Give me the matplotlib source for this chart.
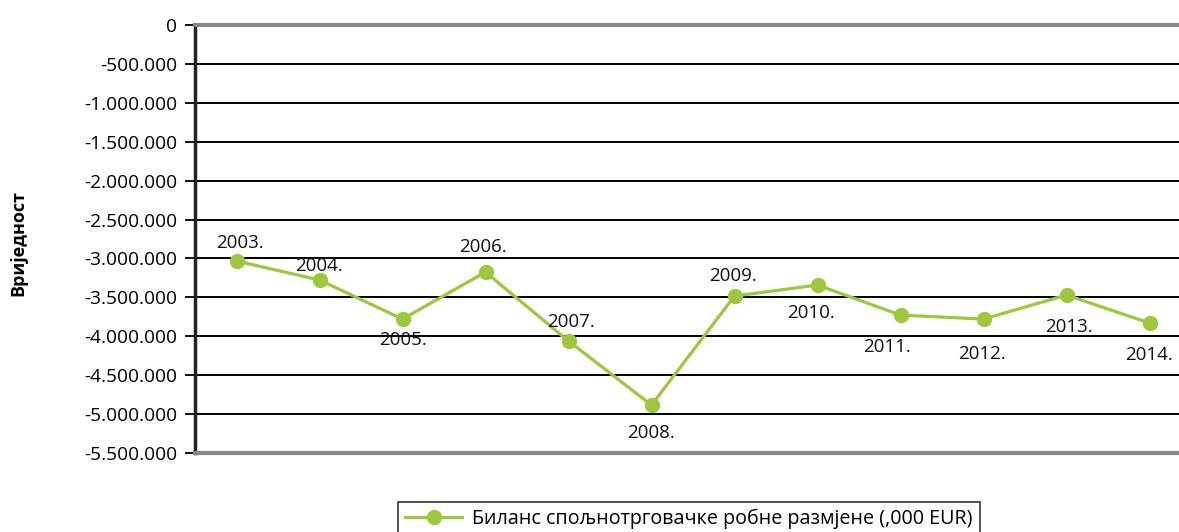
import matplotlib.pyplot as plt
from matplotlib.ticker import FuncFormatter

# data
years = ["2003.", "2004.", "2005.", "2006.", "2007.", "2008.",
         "2009.", "2010.", "2011.", "2012.", "2013.", "2014."]
balance = [-3033000, -3277000, -3779000, -3175000, -4062000, -4884000,
           -3483000, -3342000, -3728000, -3779000, -3470000, -3830000]
series_name = "Биланс спољнотрговачке робне размјене (,000 EUR)"
y_label = "Вриједност"

# label offsets in pixels (dx, dy) relative to each point
label_offsets = [(3, 18), (0, 14), (0, -21), (-3, 25), (3, 19), (0, -28),
                 (-2, 20), (-6, -28), (-14, -32), (-2, -35), (2, -32), (-1, -32)]

plt.rcParams['font.family'] = ['Open Sans', 'DejaVu Sans']
green = '#9BC83C'

fig = plt.figure(figsize=(11.79, 5.32), dpi=100)
W, H = 1179, 532
left, right, top, bottom = 195, 1191, 25, 453
ax = fig.add_axes([left / W, 1 - bottom / H, (right - left) / W, (bottom - top) / H])

x = list(range(len(years)))
ax.plot(x, balance, color=green, lw=2.3, marker='o', markersize=10,
        markerfacecolor=green, markeredgecolor=green, label=series_name, zorder=3)

for xi, yi, lab, (dx, dy) in zip(x, balance, years, label_offsets):
    ax.annotate(lab, (xi, yi), xytext=(dx, dy), textcoords='offset pixels',
                ha='center', va='center', fontsize=13.5, color='#111111', zorder=4)

ax.set_xlim(-0.5, len(years) - 0.5)
ax.set_ylim(-5500000, 0)
ax.set_yticks(range(-5500000, 1, 500000))
ax.yaxis.set_major_formatter(FuncFormatter(
    lambda v, p: f"{int(v):,}".replace(",", ".")))
ax.set_xticks([])
ax.tick_params(axis='y', length=7, width=1.3, color='black', labelsize=13.8, pad=6)

ax.grid(axis='y', color='black', lw=1.4, zorder=1)
ax.set_axisbelow(True)

ax.spines['right'].set_visible(False)
ax.spines['top'].set_color('#888888')
ax.spines['top'].set_linewidth(3)
ax.spines['bottom'].set_color('#888888')
ax.spines['bottom'].set_linewidth(3)
ax.spines['left'].set_color('#222222')
ax.spines['left'].set_linewidth(2.5)

fig.text(18 / W, 1 - 243 / H, y_label, rotation=90, ha='center', va='center',
         fontsize=13, fontweight='bold')

leg = fig.legend(loc='center', bbox_to_anchor=(689 / W, 1 - 519 / H),
                 frameon=True, fancybox=False, fontsize=14.2, handlelength=2.9,
                 handletextpad=0.5, borderpad=0.35, edgecolor='black')
leg.get_frame().set_linewidth(1.2)

fig.savefig('out.png', dpi=100)
